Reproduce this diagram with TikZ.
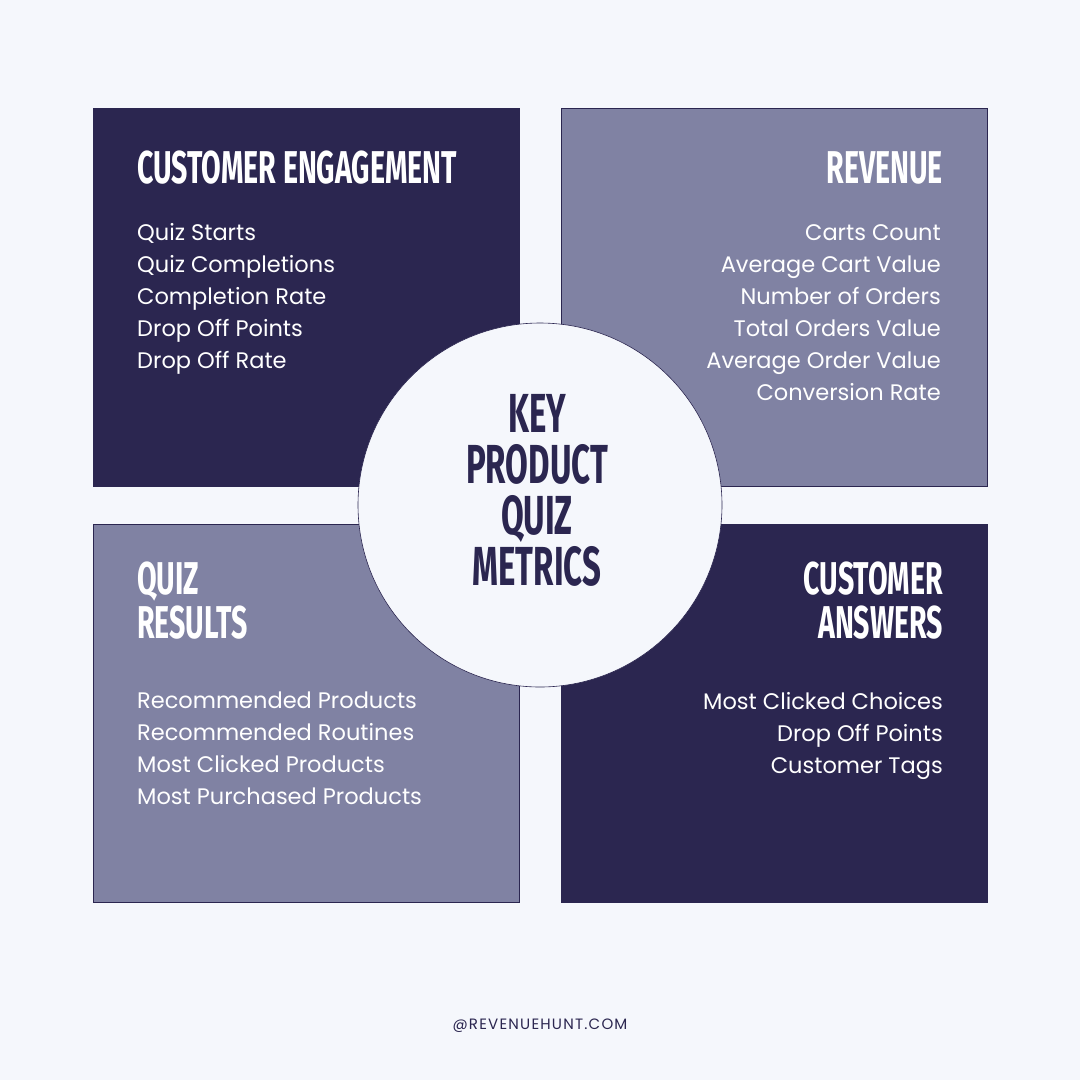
\documentclass[tikz,border=0pt]{standalone}
\usepackage{fontspec}
\setmainfont{Poppins}
\newfontfamily\headfont[FakeStretch=0.62]{Fira Sans}
\newfontfamily\centfont[FakeStretch=0.6]{Fira Sans}
\newfontfamily\footfont[LetterSpace=8]{Poppins}
\definecolor{bg}{HTML}{F5F7FC}
\definecolor{navy}{HTML}{2B2650}
\definecolor{lilac}{HTML}{8082A3}
\tikzset{
 box/.style={draw=navy, line width=0.6pt},
 head/.style={text=white, font=\headfont\bfseries\fontsize{46}{44}\selectfont, inner sep=0pt, align=left},
 item/.style={text=white, font=\fontsize{22.5}{32}\selectfont, inner sep=0pt},
}
\begin{document}
\begin{tikzpicture}[x=1pt,y=-1pt]
\fill[bg] (0,0) rectangle (1080,1080);
\useasboundingbox (0,0) rectangle (1080,1080);
\filldraw[box, fill=navy] (93,108) rectangle (519,486);
\filldraw[box, fill=lilac] (561,108) rectangle (987,486);
\filldraw[box, fill=lilac] (93,524) rectangle (519,902);
\filldraw[box, fill=navy] (561,524) rectangle (987,902);
\node[circle, draw=navy, line width=0.6pt, fill=bg, minimum size=364pt, inner sep=0pt] (c) at (540,505) {};
\node[text=navy, font=\centfont\bfseries\fontsize{55}{51}\selectfont, align=center] (ct) at (537,490) {KEY\\PRODUCT\\QUIZ\\METRICS};
% TL
\node[head, anchor=base west] (h1) at (137,183) {CUSTOMER ENGAGEMENT};
\node[item, anchor=north west, align=left] (l1) at (137,223) {Quiz Starts\\Quiz Completions\\Completion Rate\\Drop Off Points\\Drop Off Rate};
% TR
\node[head, anchor=base east, align=right] (h2) at (943,183) {REVENUE};
\node[item, anchor=north east, align=right] (l2) at (941,224) {Carts Count\\Average Cart Value\\Number of Orders\\Total Orders Value\\Average Order Value\\Conversion Rate};
% BL
\node[head, anchor=north west, align=left] (h3) at (137,562) {QUIZ\\RESULTS};
\node[item, anchor=north west, align=left] (l3) at (137,692) {Recommended Products\\Recommended Routines\\Most Clicked Products\\Most Purchased Products};
% BR
\node[head, anchor=north east, align=right] (h4) at (943,562) {CUSTOMER\\ANSWERS};
\node[item, anchor=north east, align=right] (l4) at (943,692) {Most Clicked Choices\\Drop Off Points\\Customer Tags};
\node[text=navy, font=\footfont\fontsize{15}{16}\selectfont] (ft) at (540,1026) {@REVENUEHUNT.COM};
\end{tikzpicture}
\end{document}
